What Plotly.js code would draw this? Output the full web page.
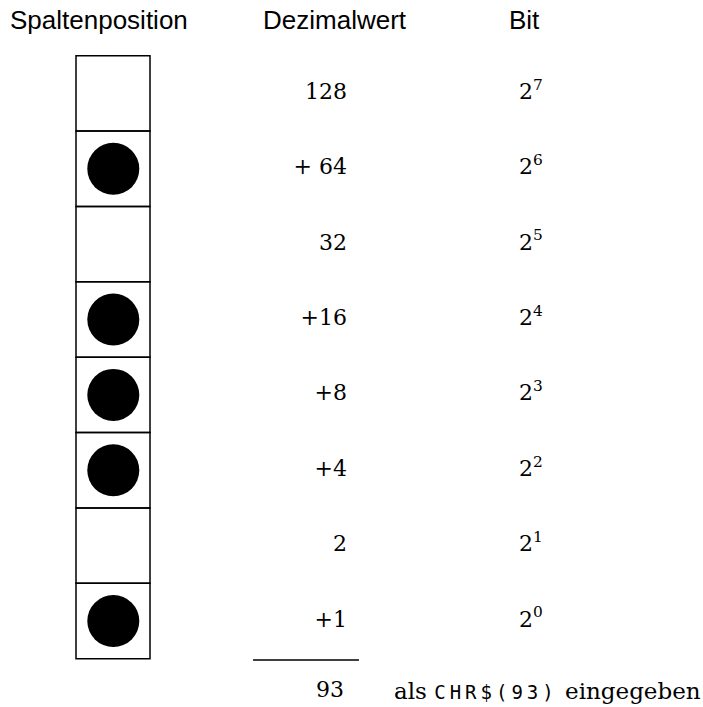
<!DOCTYPE html>
<html>
<head>
<meta charset="utf-8">
<script src="https://cdn.plot.ly/plotly-3.0.1.min.js"></script>
<style>html,body{margin:0;padding:0;background:#fff;}#chart{width:703px;height:707px;}</style>
</head>
<body>
<div id="chart"></div>
<script>
// ---- data ----
const headers = ["Spaltenposition", "Dezimalwert", "Bit"];
const rows = [0, 1, 2, 3, 4, 5, 6, 7];
const decimalValues = [128, 64, 32, 16, 8, 4, 2, 1];
const bitSet = [0, 1, 0, 1, 1, 1, 0, 1];
const exponents = [7, 6, 5, 4, 3, 2, 1, 0];
const total = 93;
const totalNote = "CHR$(93)";

// ---- geometry (style) ----
const W = 703, H = 707;
const TOP = 55.7, CELL = 75.375;
const py = p => (p - TOP) / CELL - 0.5;   // pixel -> row units
const BOX_X0 = 76, BOX_X1 = 150, BOX_CX = 113.3;
const DEC_X = 347, BIT_X = 531;
const serif = "DejaVu Serif";
const sans = "Liberation Sans";
const mono = "DejaVu Sans Mono";

const decLabels = decimalValues.map((v, i) => {
  if (!bitSet[i]) return String(v);
  return v === 64 ? "+ " + v : "+" + v;
});
const bitLabels = exponents.map(e => "2<sup>" + e + "</sup>");

const dotRows = rows.filter((r, i) => bitSet[i] === 1);

const traces = [
  {
    type: "scatter", mode: "markers", cliponaxis: false,
    x: dotRows.map(() => BOX_CX), y: dotRows,
    marker: {size: 52, color: "#000", line: {width: 0}},
    hoverinfo: "skip", showlegend: false
  },
  {
    type: "scatter", mode: "text", cliponaxis: false,
    x: rows.map(() => DEC_X), y: rows,
    text: decLabels, textposition: "middle left",
    textfont: {family: serif, size: 22, color: "#000"},
    hoverinfo: "skip", showlegend: false
  },
  {
    type: "scatter", mode: "text", cliponaxis: false,
    x: rows.map(() => BIT_X), y: rows,
    text: bitLabels, textposition: "middle center",
    textfont: {family: serif, size: 22, color: "#000"},
    hoverinfo: "skip", showlegend: false
  },
  {
    type: "scatter", mode: "text", cliponaxis: false,
    x: [344], y: [py(691)],
    text: [String(total)], textposition: "middle left",
    textfont: {family: serif, size: 22, color: "#000"},
    hoverinfo: "skip", showlegend: false
  }
];

const shapes = rows.map(r => ({
  type: "rect", xref: "x", yref: "y",
  x0: BOX_X0, x1: BOX_X1, y0: r - 0.5, y1: r + 0.5,
  line: {color: "#000", width: 1.5}, fillcolor: "rgba(0,0,0,0)", layer: "below"
}));
shapes.push({
  type: "line", xref: "x", yref: "y",
  x0: 253, x1: 359, y0: py(660), y1: py(660),
  line: {color: "#000", width: 1.5}
});

const headerX = [98.5, 335, 524];
const annotations = headers.map((h, i) => ({
  x: headerX[i], y: py(20), xref: "x", yref: "y",
  text: h, showarrow: false, xanchor: "center", yanchor: "middle",
  font: {family: sans, size: 26, color: "#000"}
}));
annotations.push({
  x: 392, y: py(691), xref: "x", yref: "y", showarrow: false,
  xanchor: "left", yanchor: "middle",
  text: 'als <span style="font-family:' + mono + ';font-size:19px;letter-spacing:4px">' + totalNote + '</span> eingegeben',
  font: {family: serif, size: 23, color: "#000"}
});

const layout = {
  width: W, height: H,
  margin: {l: 0, r: 0, t: 0, b: 0},
  paper_bgcolor: "#fff", plot_bgcolor: "#fff",
  xaxis: {range: [0, W], visible: false, fixedrange: true},
  yaxis: {range: [py(H), py(0)], visible: false, fixedrange: true},
  shapes: shapes, annotations: annotations, showlegend: false
};

Plotly.newPlot("chart", traces, layout, {staticPlot: true, displayModeBar: false});
</script>
</body>
</html>
